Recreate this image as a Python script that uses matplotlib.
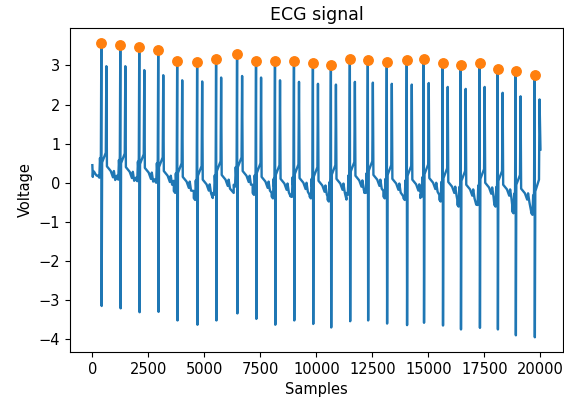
import numpy as np
import matplotlib
matplotlib.use("Agg")
import matplotlib.pyplot as plt

# ---- data ----
# sample index of each detected R peak
r_pos = [401, 1247, 2094, 2940, 3786, 4677, 5523, 6459, 7305, 8151, 8998, 9844,
         10646, 11492, 12294, 13140, 14031, 14788, 15635, 16437, 17283, 18085, 18886, 19733]
# R peak heights (orange markers)
r_val = [3.58, 3.51, 3.46, 3.39, 3.12, 3.08, 3.16, 3.28, 3.12, 3.12, 3.12, 3.07,
         3.00, 3.16, 3.13, 3.09, 3.13, 3.16, 3.06, 3.01, 3.06, 2.92, 2.86, 2.75]
# S trough depths right after each R
s_val = [-3.15, -3.21, -3.31, -3.30, -3.52, -3.63, -3.52, -3.34, -3.48, -3.63, -3.52, -3.61,
         -3.70, -3.54, -3.52, -3.60, -3.64, -3.58, -3.65, -3.75, -3.71, -3.75, -3.90, -3.95]
# secondary spike after each R
t_val = [2.98, 2.98, 2.88, 2.75, 2.62, 2.59, 2.69, 2.73, 2.69, 2.62, 2.58, 2.53,
         2.51, 2.58, 2.56, 2.53, 2.51, 2.55, 2.45, 2.40, 2.45, 2.30, 2.21, 2.13]
# level right after the secondary spike
a_val = [0.42, 0.40, 0.38, 0.30, 0.15, 0.08, 0.20, 0.30, 0.15, 0.10, 0.12, 0.05,
         0.10, 0.18, 0.20, 0.10, 0.08, 0.12, 0.02, -0.05, 0.00, -0.05, -0.15, 0.85]
# lowest level just before each R
low_val = [0.13, 0.08, 0.04, 0.00, -0.26, -0.44, -0.31, -0.10, -0.31, -0.40, -0.36, -0.40,
           -0.48, -0.31, -0.26, -0.40, -0.44, -0.36, -0.48, -0.61, -0.57, -0.61, -0.78, -0.82]
# start of the recording, before the first beat
start_x = [0, 20, 40, 80, 140, 200]
start_y = [0.45, 0.15, 0.30, 0.28, 0.22, 0.18]
n_samples = 20000

# build the trace from the read key points
xs = list(start_x)
ys = list(start_y)
for i, (rp, rv, sv, tv) in enumerate(zip(r_pos, r_val, s_val, t_val)):
    lo = low_val[i]
    # pre-R portion
    xs += [rp - 150, rp - 90, rp - 60, rp - 40, rp - 20]
    ys += [lo + 0.05, lo, lo + 0.5, lo + 0.3, lo + 0.6]
    xs += [rp, rp + 15]
    ys += [rv, sv]
    if i == len(r_pos) - 1:
        xs += [rp + 35, rp + 200, rp + 225, n_samples - 1]
        ys += [lo + 0.6, lo + 0.9, tv, a_val[i]]
        break
    a = a_val[i]
    nxt = r_pos[i + 1]
    xs += [rp + 35, rp + 200, rp + 225, rp + 250, rp + 420, rp + 520, rp + 560, rp + 620, nxt - 150]
    ys += [a + 0.1, a + 0.35, tv, a, a - 0.12, a - 0.28, a - 0.12, a - 0.35, lo + 0.05]

fig = plt.figure(figsize=(5.64, 4.0), dpi=100)
ax = fig.add_axes([0.124, 0.12, 0.874, 0.81])
ax.plot(xs, ys, color="C0", lw=1.7)
ax.plot(r_pos, r_val, "o", color="C1", markersize=6.8)
ax.set_title("ECG signal", fontsize=12.5)
ax.set_xlabel("Samples", fontsize=10.5)
ax.set_ylabel("Voltage", fontsize=10.5)
ax.tick_params(labelsize=10.5)
ax.set_xticks([0, 2500, 5000, 7500, 10000, 12500, 15000, 17500, 20000])
ax.set_yticks([-4, -3, -2, -1, 0, 1, 2, 3])
fig.savefig("out.png", dpi=100)
